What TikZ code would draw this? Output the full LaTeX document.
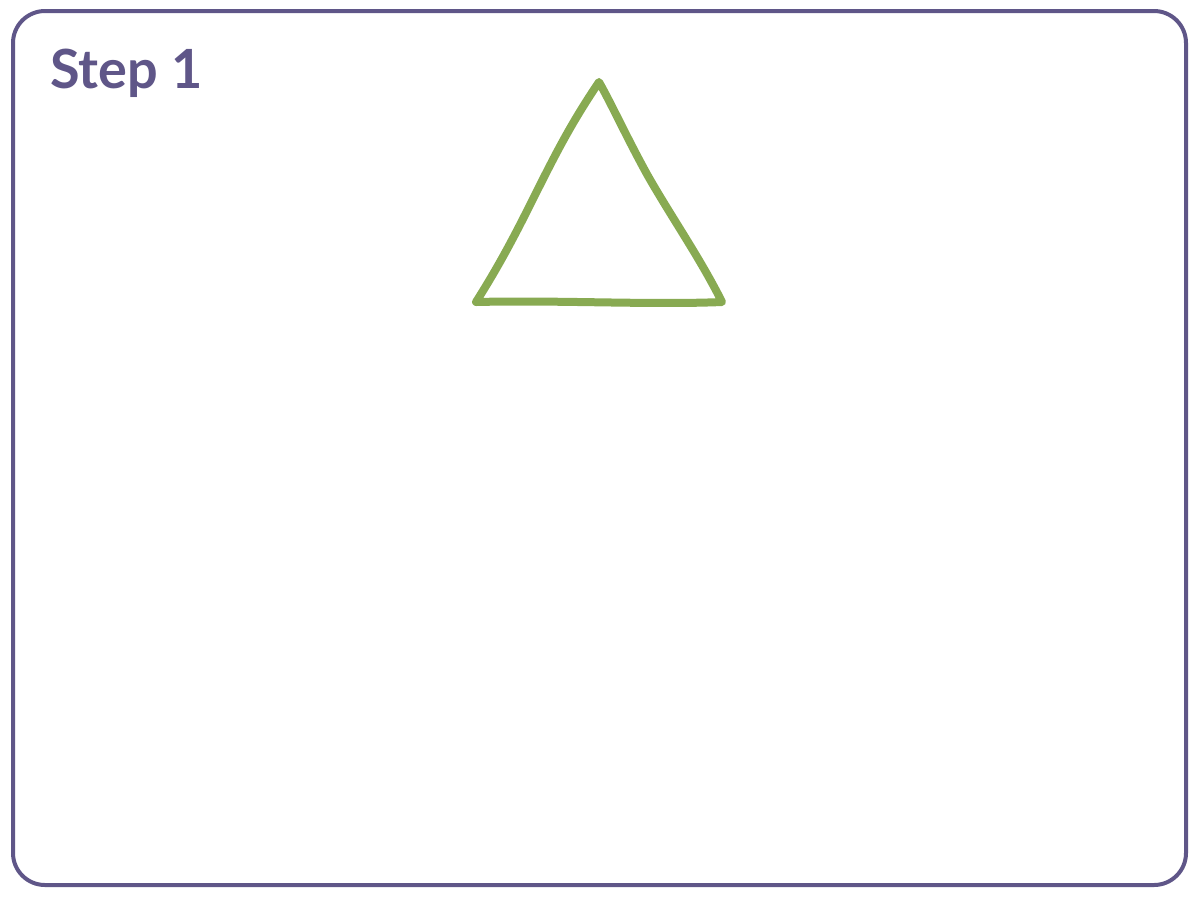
\documentclass[tikz,border=0pt]{standalone}
\usepackage{fontspec}
\setsansfont{Lato}
\definecolor{framepurple}{HTML}{5F5688}
\definecolor{trigreen}{HTML}{88AA52}

\begin{document}
\begin{tikzpicture}[x=0.5pt,y=-0.5pt]
            % Fix the page size
            \useasboundingbox (0,0) rectangle (1200,896);

            % Draw the rounded frame
            \draw[framepurple, line width=2pt, rounded corners=16pt] (13,11) rectangle (1186,885);

            % Step label
            \node[framepurple, anchor=base west, inner sep=0pt, font=\sffamily\bfseries\fontsize{27}{30}\selectfont] (steplabel) at (50,88) {Step 1};

            % Draw the hand drawn triangle
            \draw[trigreen, line width=4pt, line join=round, line cap=round]
                (599,82) .. controls (570,125) and (555,155) .. (530,205)
                .. controls (510,245) and (495,272) .. (476,302)
                .. controls (560,300) and (650,305) .. (722,302)
                .. controls (700,258) and (672,218) .. (648,176)
                .. controls (628,140) and (612,105) .. cycle;
\end{tikzpicture}
\end{document}
